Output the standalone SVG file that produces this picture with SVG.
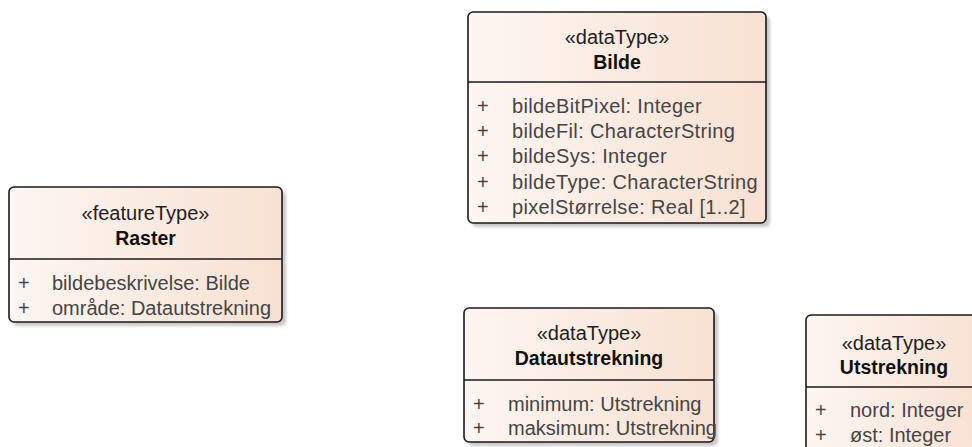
<svg xmlns="http://www.w3.org/2000/svg" width="972" height="447" viewBox="0 0 972 447">
<style>
.box{fill:url(#g);stroke:#1a1a1a;stroke-width:1.6}
.sh{fill:#c8c8c8;filter:url(#blur)}
.sep{stroke:#1a1a1a;stroke-width:1.6}
text{font-family:"Liberation Sans",Arial,sans-serif;font-size:20px}
.st{fill:#1e1e1e;text-anchor:middle}
.nm{fill:#111;text-anchor:middle;font-weight:bold;font-size:19.5px}
.at{fill:#454545}
.wide{letter-spacing:0.35px}
</style>
<defs>
<linearGradient id="g" x1="0" y1="0" x2="1" y2="0">
<stop offset="0" stop-color="#fdf6f2"/>
<stop offset="1" stop-color="#f8e1d2"/>
</linearGradient>
<filter id="blur" x="-10%" y="-10%" width="120%" height="120%"><feGaussianBlur stdDeviation="1.5"/></filter>
</defs>
<rect width="972" height="447" fill="#ffffff"/>
<g id="connectors"></g>
<g id="Bilde">
<rect class="sh" x="472" y="16" width="298" height="211" rx="5"/>
<rect class="box" x="468" y="12" width="298" height="211" rx="5"/>
<line class="sep" x1="468" y1="82" x2="766" y2="82"/>
<text class="st" x="617" y="44">«dataType»</text>
<text class="nm" x="617" y="69">Bilde</text>
<text class="at" x="477" y="113">+</text><text class="at wide" x="512" y="113">bildeBitPixel: Integer</text>
<text class="at" x="477" y="138">+</text><text class="at wide" x="512" y="138">bildeFil: CharacterString</text>
<text class="at" x="477" y="163">+</text><text class="at wide" x="512" y="163">bildeSys: Integer</text>
<text class="at" x="477" y="189">+</text><text class="at wide" x="512" y="189">bildeType: CharacterString</text>
<text class="at" x="477" y="214">+</text><text class="at wide" x="512" y="214">pixelStørrelse: Real [1..2]</text>
</g>
<g id="Raster">
<rect class="sh" x="13" y="191" width="273" height="135" rx="5"/>
<rect class="box" x="9" y="187" width="273" height="135" rx="5"/>
<line class="sep" x1="9" y1="259" x2="282" y2="259"/>
<text class="st" x="145.5" y="220">«featureType»</text>
<text class="nm" x="145.5" y="245">Raster</text>
<text class="at" x="18" y="290">+</text><text class="at" x="52" y="290">bildebeskrivelse: Bilde</text>
<text class="at" x="18" y="315">+</text><text class="at" x="52" y="315">område: Datautstrekning</text>
</g>
<g id="Datautstrekning">
<rect class="sh" x="468" y="312" width="250" height="134" rx="5"/>
<rect class="box" x="464" y="308" width="250" height="134" rx="5"/>
<line class="sep" x1="464" y1="380" x2="714" y2="380"/>
<text class="st" x="589" y="340">«dataType»</text>
<text class="nm" x="589" y="365">Datautstrekning</text>
<text class="at" x="473" y="411">+</text><text class="at" x="508" y="411">minimum: Utstrekning</text>
<text class="at" x="473" y="435">+</text><text class="at" x="508" y="435">maksimum: Utstrekning</text>
</g>
<g id="Utstrekning">
<rect class="sh" x="810" y="319" width="176" height="150" rx="5"/>
<rect class="box" x="806" y="315" width="176" height="150" rx="5"/>
<line class="sep" x1="806" y1="387" x2="982" y2="387"/>
<text class="st" x="894" y="350">«dataType»</text>
<text class="nm" x="894" y="374">Utstrekning</text>
<text class="at" x="815" y="417">+</text><text class="at" x="850" y="417">nord: Integer</text>
<text class="at" x="815" y="442">+</text><text class="at" x="850" y="442">øst: Integer</text>
</g>
</svg>
